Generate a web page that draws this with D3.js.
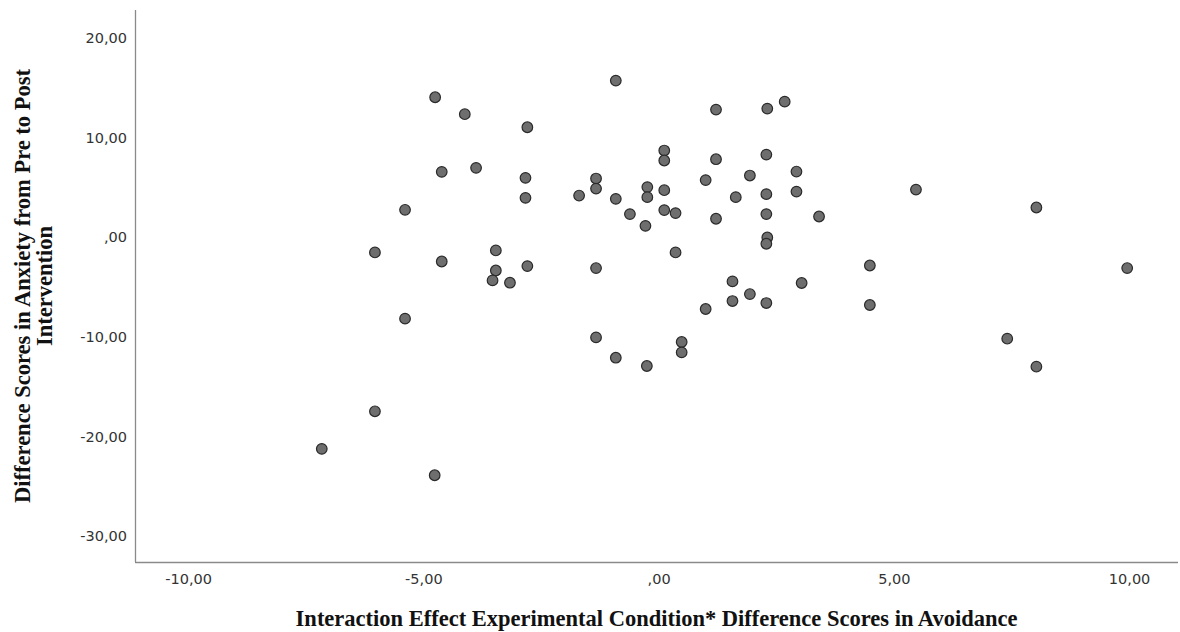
<!DOCTYPE html>
<html><head><meta charset="utf-8">
<script src="https://cdn.jsdelivr.net/npm/d3@7"></script>
<style>
html,body{margin:0;padding:0;background:#fff;}
</style></head>
<body>
<svg id="chart" width="1180" height="632"></svg>
<script>
// Interaction effect (x) and difference scores in anxiety (y)
const xValues = [-4.75,-4.12,-2.79,-4.61,-3.88,-2.83,-2.83,-5.39,-6.03,-4.61,-3.46,-3.46,-3.53,-3.16,-2.79,-5.39,-6.03,-7.16,-4.76,
  -0.91,1.22,2.31,2.68,0.12,0.12,1.22,2.29,-1.33,-1.33,-1.69,-0.91,-0.24,-0.24,0.12,-0.61,-0.28,0.12,0.36,1.22,1.00,1.94,1.64,2.29,2.93,2.93,2.29,3.41,2.31,2.29,0.36,
  -1.33,1.57,1.94,3.04,1.57,2.29,1.00,-1.33,0.49,0.49,-0.91,-0.25,5.47,4.49,4.49,8.03,9.96,7.41,8.03];
const yValues = [14.06,12.36,11.05,6.57,6.97,5.97,3.96,2.76,-1.52,-2.43,-1.32,-3.33,-4.33,-4.56,-2.89,-8.17,-17.47,-21.24,-23.89,
  15.73,12.82,12.92,13.62,8.71,7.71,7.84,8.30,5.90,4.89,4.19,3.86,5.04,4.03,4.73,2.33,1.15,2.73,2.43,1.86,5.74,6.20,4.03,4.33,6.60,4.59,2.33,2.09,-0.02,-0.65,-1.52,
  -3.09,-4.43,-5.70,-4.59,-6.40,-6.60,-7.20,-10.05,-10.51,-11.55,-12.09,-12.92,4.79,-2.83,-6.80,2.99,-3.09,-10.18,-12.99];
const xTicks = [-10, -5, 0, 5, 10];
const yTicks = [20, 10, 0, -10, -20, -30];
const xTitle = "Interaction Effect Experimental Condition* Difference Scores in Avoidance";
const yTitleLines = ["Difference Scores in Anxiety from Pre to Post", "Intervention"];

const points = xValues.map((x, i) => ({x, y: yValues[i]}));

const svg = d3.select("#chart");
const mLeft = 135, mRight = 1178, mTop = 10, mBottom = 562;

const x = d3.scaleLinear().domain([-11.13, 11.04]).range([mLeft, mRight]);
const y = d3.scaleLinear().domain([-32.6, 22.82]).range([mBottom, mTop]);

const fmt = v => {
  if (v === 0) return ",00";
  return (v < 0 ? "-" : "") + Math.abs(v).toFixed(2).replace(".", ",");
};

// axes
const xAxis = d3.axisBottom(x).tickValues(xTicks).tickSize(0).tickPadding(12).tickFormat(fmt);
const yAxis = d3.axisLeft(y).tickValues(yTicks).tickSize(0).tickPadding(8).tickFormat(fmt);

const gx = svg.append("g").attr("transform", `translate(0,${mBottom})`).call(xAxis);
const gy = svg.append("g").attr("transform", `translate(${mLeft},0)`).call(yAxis);

[gx, gy].forEach(g => {
  g.select(".domain").attr("stroke", "#8a8a8a").attr("stroke-width", 1.3);
  g.selectAll("text").attr("font-family", "'DejaVu Sans', Verdana, sans-serif")
    .attr("font-size", 14.5).attr("fill", "#333");
});
gx.select(".domain").attr("d", `M${mLeft},0.5H${mRight}`);
gy.select(".domain").attr("d", `M0.5,${mBottom}V${mTop}`);

// points
svg.append("g").selectAll("circle").data(points).join("circle")
  .attr("cx", d => x(d.x)).attr("cy", d => y(d.y)).attr("r", 5.3)
  .attr("fill", "#6e6e6e").attr("stroke", "#2a2a2a").attr("stroke-width", 1.2);

// titles
svg.append("text").attr("x", (mLeft + mRight) / 2).attr("y", 626)
  .attr("text-anchor", "middle")
  .attr("font-family", "'Liberation Serif', 'Times New Roman', serif")
  .attr("font-weight", "bold").attr("font-size", 22.5).attr("fill", "#111")
  .text(xTitle);

const yt = svg.append("text")
  .attr("transform", `translate(30,${(mTop + mBottom) / 2}) rotate(-90)`)
  .attr("text-anchor", "middle")
  .attr("font-family", "'Liberation Serif', 'Times New Roman', serif")
  .attr("font-weight", "bold").attr("font-size", 22.5).attr("fill", "#111");
yt.selectAll("tspan").data(yTitleLines).join("tspan")
  .attr("x", 0).attr("dy", (d, i) => i === 0 ? 0 : 22).text(d => d);
</script>
</body></html>
